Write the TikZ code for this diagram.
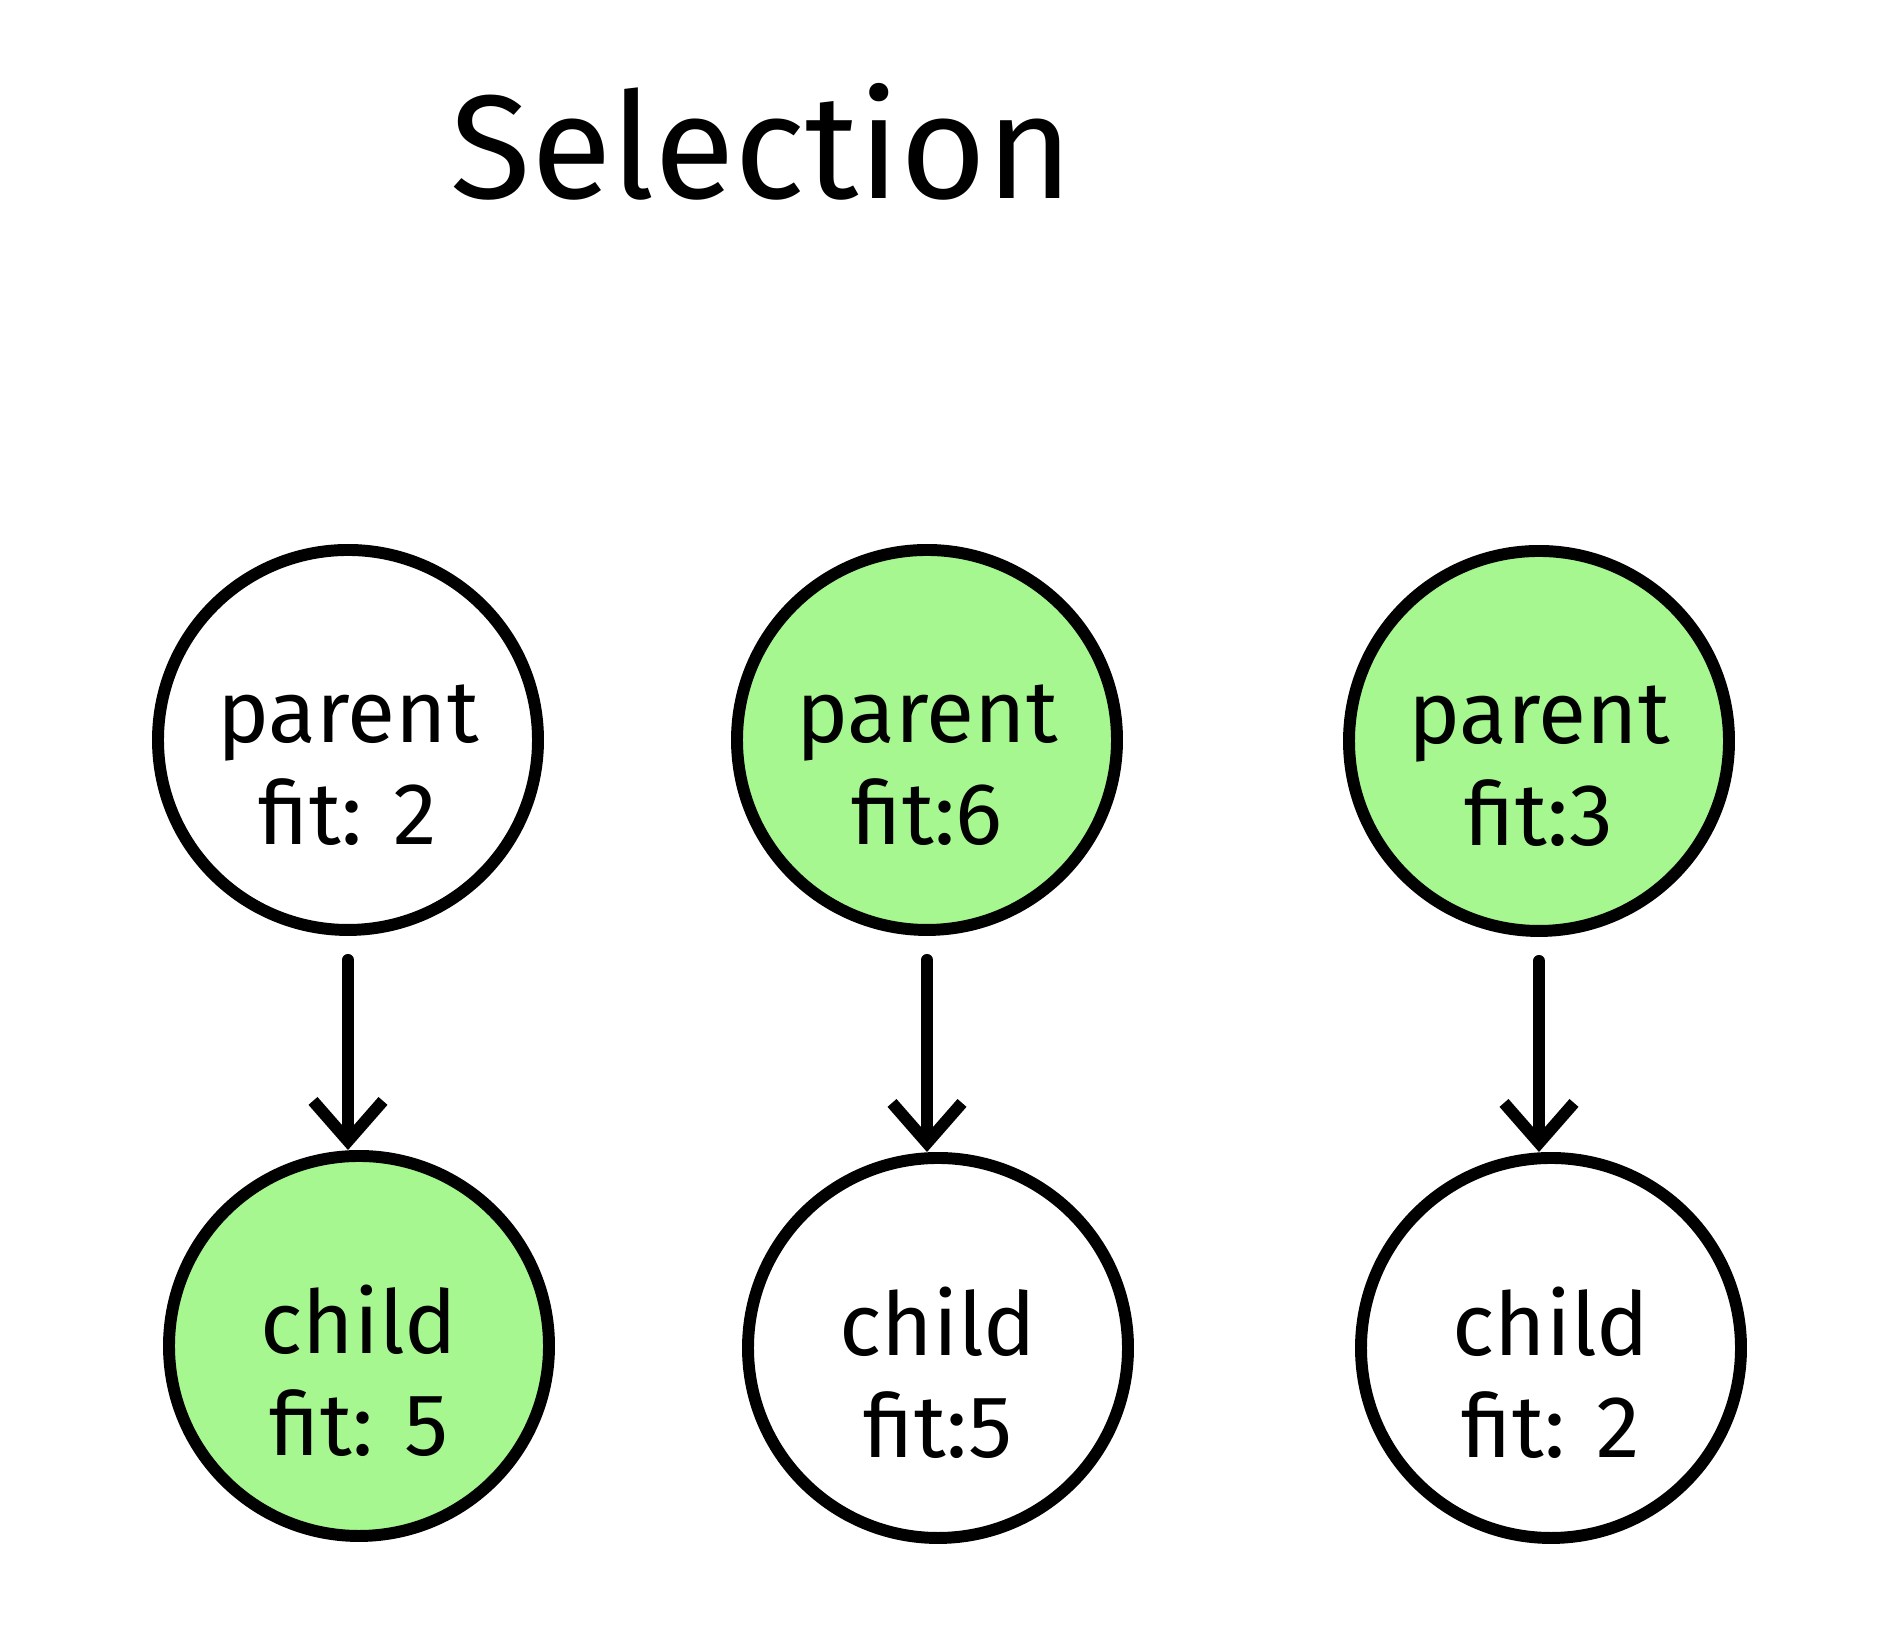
\documentclass[tikz,border=0pt]{standalone}
\usepackage{fontspec}
\setmainfont{Fira Sans}
\usetikzlibrary{arrows.meta}
\definecolor{selgreen}{HTML}{A6F78F}
\begin{document}
\begin{tikzpicture} [>={Straight Barb[length=4mm,width=7mm]},
    line width=3.4pt, line cap=round,
    ring/.style={circle, draw, minimum size=38mm, inner sep=0pt},
    picked/.style={ring, fill=selgreen},
    tag/.style={align=center, font=\fontsize{25}{29}\selectfont, inner sep=0pt}]
  \useasboundingbox (0,0) rectangle (18.96,16.26);
  \node[font=\fontsize{42}{48}\selectfont] (title) at (7.62,14.84) {Selection};

  \node[ring]   (p1) at (3.48,8.86)  {};
  \node[picked] (p2) at (9.27,8.86)  {};
  \node[picked] (p3) at (15.39,8.85) {};
  \node[picked] (c1) at (3.59,2.80)  {};
  \node[ring]   (c2) at (9.38,2.78)  {};
  \node[ring]   (c3) at (15.51,2.78) {};

  \node[tag] (t1) at ([yshift=-2.5mm]p1) {parent\\fit: 2};
  \node[tag] (t2) at ([yshift=-2.5mm]p2) {parent\\fit:6};
  \node[tag] (t3) at ([yshift=-2.5mm]p3) {parent\\fit:3};
  \node[tag] (t4) at ([yshift=-2.5mm]c1) {child\\fit: 5};
  \node[tag] (t5) at ([yshift=-2.5mm]c2) {child\\fit:5};
  \node[tag] (t6) at ([yshift=-2.5mm]c3) {child\\fit: 2};

  \draw[->, shorten <=2.4mm] (p1) -- (p1 |- c1.north);
  \draw[->, shorten <=2.4mm] (p2) -- (p2 |- c2.north);
  \draw[->, shorten <=2.4mm] (p3) -- (p3 |- c3.north);
\end{tikzpicture}
\end{document}
